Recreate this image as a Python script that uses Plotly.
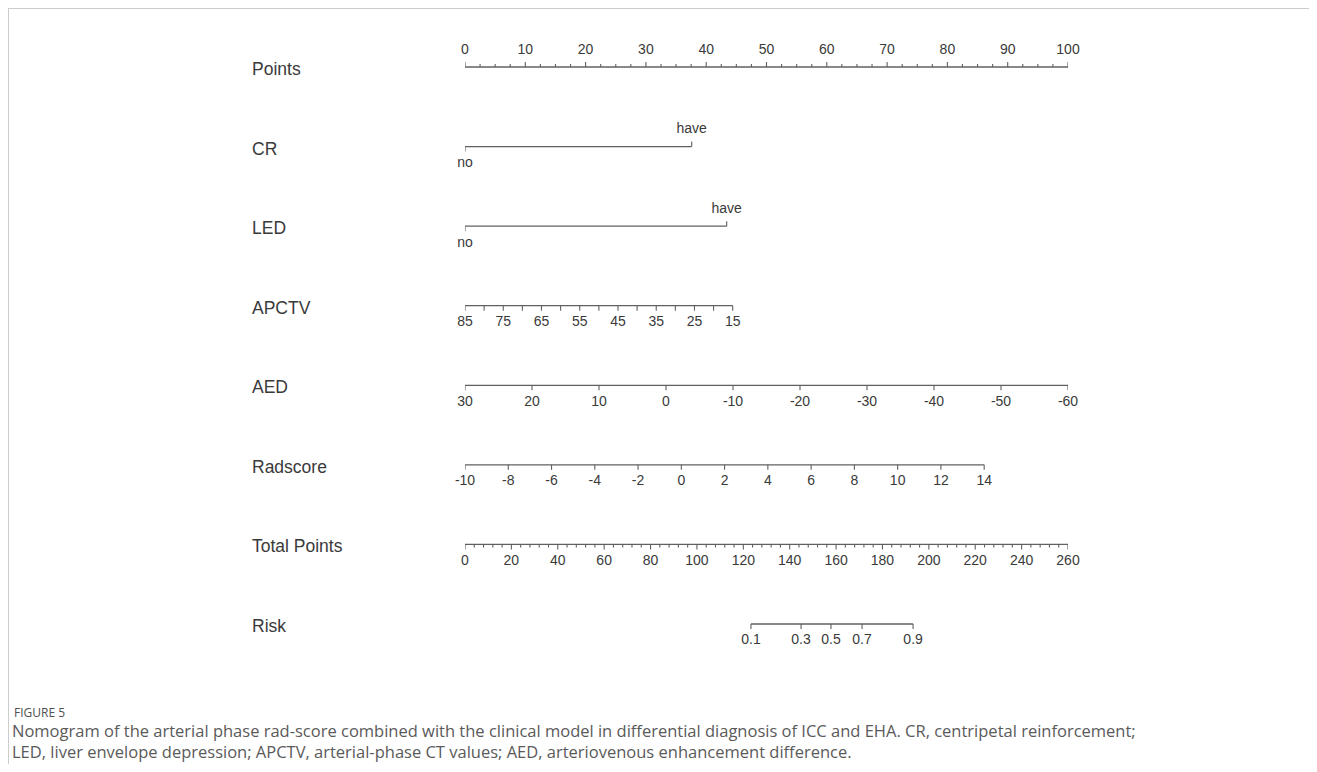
import plotly.graph_objects as go

# ---------------- data ----------------
row_names = ["Points", "CR", "LED", "APCTV", "AED", "Radscore", "Total Points", "Risk"]

points_labels = [0, 10, 20, 30, 40, 50, 60, 70, 80, 90, 100]
points_minor_step = 2.5

cr_levels = ["no", "have"]
cr_points = [0, 37.6]

led_levels = ["no", "have"]
led_points = [0, 43.4]

apctv_labels = [85, 75, 65, 55, 45, 35, 25, 15]
apctv_ticks = [85, 80, 75, 70, 65, 60, 55, 50, 45, 40, 35, 30, 25, 20, 15]
apctv_ends_values = [85, 15]
apctv_ends_points = [0, 44.4]

aed_labels = [30, 20, 10, 0, -10, -20, -30, -40, -50, -60]
aed_ends_values = [30, -60]
aed_ends_points = [0, 100]

rad_labels = [-10, -8, -6, -4, -2, 0, 2, 4, 6, 8, 10, 12, 14]
rad_ends_values = [-10, 14]
rad_ends_points = [0, 86.1]

total_labels = [0, 20, 40, 60, 80, 100, 120, 140, 160, 180, 200, 220, 240, 260]
total_minor_step = 4
total_ends_values = [0, 260]
total_ends_points = [0, 100]

risk_labels = ["0.1", "0.3", "0.5", "0.7", "0.9"]
risk_total_points = [123.3, 144.9, 157.8, 171.2, 193.2]

caption_title = "FIGURE 5"
caption_line1 = ("Nomogram of the arterial phase rad-score combined with the clinical model in differential "
                 "diagnosis of ICC and EHA. CR, centripetal reinforcement;")
caption_line2 = ("LED, liver envelope depression; APCTV, arterial-phase CT values; "
                 "AED, arteriovenous enhancement difference.")

# ---------------- layout constants ----------------
OFF = 8                            # page body margin
W, H = 1317 - 2 * OFF, 772 - 2 * OFF
X0_PX, X1_PX = 465 - OFF, 1068 - OFF
ROW0_PX, ROW_PITCH = 67 - OFF, 79.57
LABEL_X_PX = 250 - OFF

LINE_COLOR = "#606060"
TEXT_COLOR = "#3a3a3a"
FONT = "Liberation Sans, Arial, sans-serif"
CAP_FONT = "Open Sans, sans-serif"
TICK_FS = 14
NAME_FS = 17.5

px = 1.0 / ROW_PITCH
TL = 5 * px
TLm = 3 * px
LBL = 17 * px


def lin(v, ends_v, ends_p):
    return ends_p[0] + (v - ends_v[0]) / (ends_v[1] - ends_v[0]) * (ends_p[1] - ends_p[0])


fig = go.Figure()


def add_line(x0, x1, row):
    fig.add_trace(go.Scatter(x=[x0, x1], y=[row, row], mode="lines",
                             line=dict(color=LINE_COLOR, width=1.3), cliponaxis=False,
                             hoverinfo="skip", showlegend=False))


def add_ticks(xs, row, length, up=False):
    X, Y = [], []
    for x in xs:
        X += [x, x, None]
        Y += [row, row - length if up else row + length, None]
    fig.add_trace(go.Scatter(x=X, y=Y, mode="lines", cliponaxis=False,
                             line=dict(color=LINE_COLOR, width=1.1),
                             hoverinfo="skip", showlegend=False))


def add_labels(xs, texts, row, up=False, size=TICK_FS):
    fig.add_trace(go.Scatter(x=xs, y=[row - LBL if up else row + LBL] * len(xs),
                             mode="text", text=[str(t) for t in texts], cliponaxis=False,
                             textposition="middle center",
                             textfont=dict(family=FONT, size=size, color=TEXT_COLOR),
                             hoverinfo="skip", showlegend=False))


# Row 0: Points
r = 0
add_line(points_labels[0], points_labels[-1], r)
n_minor = int(round((points_labels[-1] - points_labels[0]) / points_minor_step))
minor = [points_labels[0] + i * points_minor_step for i in range(n_minor + 1)]
add_ticks([m for m in minor if m not in points_labels], r, TLm, up=True)
add_ticks(points_labels, r, TL, up=True)
add_labels(points_labels, points_labels, r, up=True)

# Rows 1-2: CR, LED
for r, levels, pts in [(1, cr_levels, cr_points), (2, led_levels, led_points)]:
    add_line(pts[0], pts[1], r)
    add_ticks([pts[0]], r, TL, up=False)
    add_ticks([pts[1]], r, TL, up=True)
    add_labels([pts[0]], [levels[0]], r, up=False)
    add_labels([pts[1]], [levels[1]], r, up=True)

# Row 3: APCTV
r = 3
ap = [lin(v, apctv_ends_values, apctv_ends_points) for v in apctv_ticks]
add_line(min(ap), max(ap), r)
add_ticks(ap, r, TL)
add_labels([lin(v, apctv_ends_values, apctv_ends_points) for v in apctv_labels], apctv_labels, r)

# Row 4: AED
r = 4
ae = [lin(v, aed_ends_values, aed_ends_points) for v in aed_labels]
add_line(min(ae), max(ae), r)
add_ticks(ae, r, TL)
add_labels(ae, aed_labels, r)

# Row 5: Radscore
r = 5
rs = [lin(v, rad_ends_values, rad_ends_points) for v in rad_labels]
add_line(min(rs), max(rs), r)
add_ticks(rs, r, TL)
add_labels(rs, rad_labels, r)

# Row 6: Total Points
r = 6
tp = [lin(v, total_ends_values, total_ends_points) for v in total_labels]
add_line(min(tp), max(tp), r)
n_minor = int(round((total_labels[-1] - total_labels[0]) / total_minor_step))
tminor = [total_labels[0] + i * total_minor_step for i in range(n_minor + 1)]
add_ticks([lin(v, total_ends_values, total_ends_points) for v in tminor if v not in total_labels], r, TLm)
add_ticks(tp, r, TL)
add_labels(tp, total_labels, r)

# Row 7: Risk
r = 7
rk = [lin(v, total_ends_values, total_ends_points) for v in risk_total_points]
add_line(min(rk), max(rk), r)
add_ticks(rk, r, TL)
add_labels(rk, risk_labels, r)

# Row names
for i, name in enumerate(row_names):
    fig.add_annotation(x=LABEL_X_PX / W, xref="paper", y=i + 2 * px, yref="y",
                       text=name, showarrow=False, xanchor="left", yanchor="middle",
                       font=dict(family=FONT, size=NAME_FS, color=TEXT_COLOR))

# Caption
fig.add_annotation(x=(12 - OFF) / W, xref="paper", y=1 - (712 - OFF) / H, yref="paper",
                   text=caption_title, showarrow=False, xanchor="left", yanchor="middle",
                   font=dict(family=CAP_FONT, size=12, color="#505050"))
fig.add_annotation(x=(10 - OFF) / W, xref="paper", y=1 - (741 - OFF) / H, yref="paper",
                   text=caption_line1 + "<br>" + caption_line2, showarrow=False,
                   xanchor="left", yanchor="middle", align="left",
                   font=dict(family=CAP_FONT, size=16.5, color="#5a5a5a"))

# Frame lines (left + top)
fig.add_shape(type="line", xref="paper", yref="paper", x0=0.5 / W, x1=0.5 / W, y0=1 - 0.5 / H, y1=0,
              line=dict(color="#cccccc", width=1))
fig.add_shape(type="line", xref="paper", yref="paper", x0=0, x1=1, y0=1 - 0.5 / H, y1=1 - 0.5 / H,
              line=dict(color="#cccccc", width=1))

xd0, xd1 = X0_PX / W, X1_PX / W
ytop = -ROW0_PX / ROW_PITCH
ybot = (H - ROW0_PX) / ROW_PITCH
fig.update_layout(
    width=W, height=H,
    margin=dict(l=0, r=0, t=0, b=0),
    paper_bgcolor="white", plot_bgcolor="rgba(0,0,0,0)",
    xaxis=dict(domain=[xd0, xd1], range=[0, 100], visible=False, fixedrange=True),
    yaxis=dict(domain=[0, 1], range=[ybot, ytop], visible=False, fixedrange=True),
    showlegend=False,
)

fig.write_html("out.html")
